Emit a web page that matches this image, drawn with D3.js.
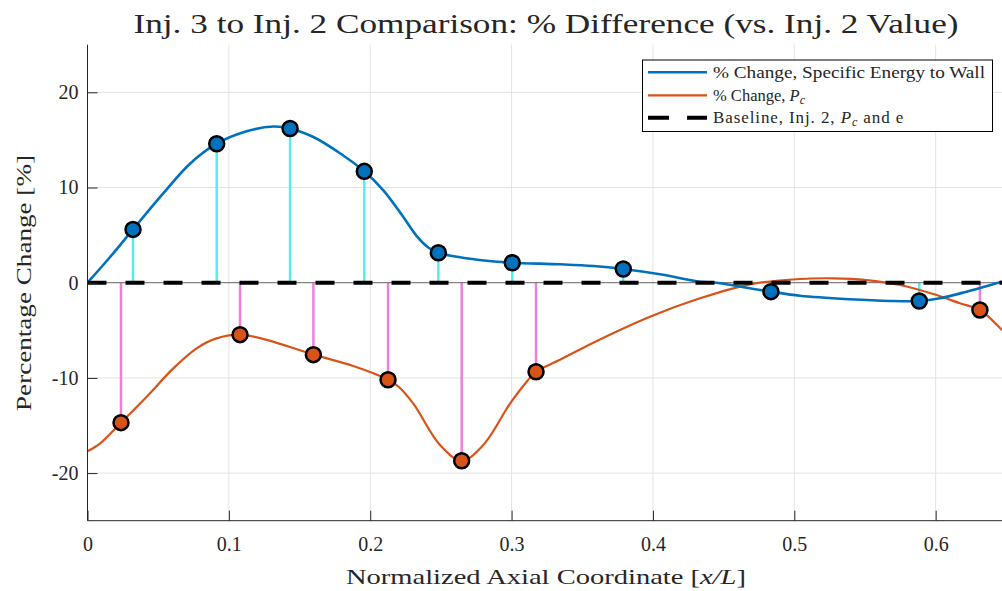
<!DOCTYPE html>
<html>
<head>
<meta charset="utf-8">
<script src="https://cdn.jsdelivr.net/npm/d3@7"></script>
<style>
  html, body { margin: 0; padding: 0; background: #fff; }
  svg { display: block; }
  text { font-family: "Liberation Serif", "DejaVu Serif", serif; fill: #262626; }
</style>
</head>
<body>
<svg id="chart" width="1002" height="591"></svg>
<script>
// Sampled positions where the two quantities are compared (stems + markers)
const energyX = [0.0322, 0.0914, 0.1433, 0.1958, 0.2482, 0.3005, 0.3790, 0.4835, 0.5884];
const energyY = [5.6, 14.6, 16.2, 11.7, 3.15, 2.1, 1.44, -0.94, -1.92];
const pcX = [0.0237, 0.1079, 0.1598, 0.2126, 0.2647, 0.3173, 0.6313];
const pcY = [-14.7, -5.46, -7.56, -10.19, -18.7, -9.35, -2.87];

// Continuous profiles along the axis
const energyLineX = [0, 0.016, 0.0322, 0.0537, 0.0725, 0.0914, 0.1126, 0.1315, 0.1433, 0.1598, 0.1786, 0.1958,
  0.2093, 0.2234, 0.2329, 0.2411, 0.2482, 0.2635, 0.2824, 0.3005, 0.3343, 0.3578, 0.3790, 0.4050, 0.4333,
  0.4450, 0.4687, 0.4835, 0.5040, 0.5394, 0.5677, 0.5884, 0.6030, 0.6220, 0.6455, 0.6500];
const energyLineY = [0, 2.7, 5.6, 9.4, 12.5, 14.6, 15.9, 16.4, 16.2, 15.3, 13.6, 11.7,
  9.7, 6.9, 4.9, 3.7, 3.15, 2.67, 2.3, 2.1, 1.93, 1.75, 1.44, 0.88, 0.1,
  0.0, -0.59, -0.94, -1.37, -1.74, -1.92, -1.92, -1.64, -0.94, 0.04, 0.22];
const pcLineX = [0, 0.0088, 0.0237, 0.0419, 0.0607, 0.0772, 0.0902, 0.1079, 0.1268, 0.1598, 0.1880, 0.2126,
  0.2199, 0.2305, 0.2494, 0.2647, 0.2800, 0.2989, 0.3107, 0.3173, 0.3343, 0.3578, 0.3979, 0.4333,
  0.4687, 0.5040, 0.5276, 0.5512, 0.5748, 0.5983, 0.6172, 0.6313, 0.6470, 0.6500];
const pcLineY = [-17.7, -16.9, -14.7, -11.97, -9.0, -6.9, -5.9, -5.46, -6.0, -7.56, -8.75, -10.19,
  -10.9, -12.7, -17.05, -18.7, -17.05, -12.7, -10.4, -9.35, -8.1, -6.3, -3.57, -1.64,
  -0.17, 0.39, 0.46, 0.28, -0.24, -1.19, -2.16, -2.87, -4.97, -5.4];

const xTicks = [0, 0.1, 0.2, 0.3, 0.4, 0.5, 0.6];
const yTicks = [-20, -10, 0, 10, 20];

const svg = d3.select("#chart");
const plotLeft = 87.5, plotTop = 44.7, plotBottom = 520.7;
const pxPerUnit = 1413.6;
const xMax = 0.65;

const x = d3.scaleLinear().domain([0, xMax]).range([plotLeft, plotLeft + xMax * pxPerUnit]);
const y = d3.scaleLinear().domain([-25, 25]).range([plotBottom, plotTop]);

svg.append("defs").append("clipPath").attr("id", "plot-clip")
  .append("rect").attr("x", plotLeft).attr("y", plotTop)
  .attr("width", xMax * pxPerUnit).attr("height", plotBottom - plotTop);

// grid
const grid = svg.append("g");
grid.selectAll(".gx").data(xTicks.filter(d => d > 0)).join("line")
  .attr("x1", d => x(d)).attr("x2", d => x(d)).attr("y1", plotTop).attr("y2", plotBottom)
  .attr("stroke", "#e3e3e3").attr("stroke-width", 1);
grid.selectAll(".gy").data(yTicks).join("line")
  .attr("x1", plotLeft).attr("x2", x(xMax)).attr("y1", d => y(d)).attr("y2", d => y(d))
  .attr("stroke", "#e3e3e3").attr("stroke-width", 1);

const plot = svg.append("g").attr("clip-path", "url(#plot-clip)");

// stems from zero to each sampled value
plot.selectAll(".stemE").data(energyX.map((d, i) => [d, energyY[i]])).join("line")
  .attr("x1", d => x(d[0])).attr("x2", d => x(d[0]))
  .attr("y1", y(0)).attr("y2", d => y(d[1]))
  .attr("stroke", "#55eef0").attr("stroke-width", 2.5);
plot.selectAll(".stemP").data(pcX.map((d, i) => [d, pcY[i]])).join("line")
  .attr("x1", d => x(d[0])).attr("x2", d => x(d[0]))
  .attr("y1", y(0)).attr("y2", d => y(d[1]))
  .attr("stroke", "#f07edc").attr("stroke-width", 2.5);

// thin stem base line
plot.append("line").attr("x1", plotLeft).attr("x2", x(xMax)).attr("y1", y(0)).attr("y2", y(0))
  .attr("stroke", "#6b6b6b").attr("stroke-width", 1);

const line = d3.line().x(d => x(d[0])).y(d => y(d[1])).curve(d3.curveCatmullRom.alpha(0.5));

plot.append("path").datum(pcLineX.map((d, i) => [d, pcLineY[i]]))
  .attr("d", line).attr("fill", "none").attr("stroke", "#d95319").attr("stroke-width", 2.2);
plot.append("path").datum(energyLineX.map((d, i) => [d, energyLineY[i]]))
  .attr("d", line).attr("fill", "none").attr("stroke", "#0072bd").attr("stroke-width", 2.6);

// baseline
plot.append("line").attr("x1", plotLeft).attr("x2", x(xMax)).attr("y1", y(0)).attr("y2", y(0))
  .attr("stroke", "#000").attr("stroke-width", 4).attr("stroke-dasharray", "19 19");

// markers
plot.selectAll(".mE").data(energyX.map((d, i) => [d, energyY[i]])).join("circle")
  .attr("cx", d => x(d[0])).attr("cy", d => y(d[1])).attr("r", 7.5)
  .attr("fill", "#0072bd").attr("stroke", "#000").attr("stroke-width", 2.5);
plot.selectAll(".mP").data(pcX.map((d, i) => [d, pcY[i]])).join("circle")
  .attr("cx", d => x(d[0])).attr("cy", d => y(d[1])).attr("r", 7.5)
  .attr("fill", "#d95319").attr("stroke", "#000").attr("stroke-width", 2.5);

// axes
const axisColor = "#262626";
svg.append("line").attr("x1", plotLeft).attr("x2", x(xMax)).attr("y1", plotBottom).attr("y2", plotBottom)
  .attr("stroke", axisColor).attr("stroke-width", 1);
svg.append("line").attr("x1", plotLeft).attr("x2", plotLeft).attr("y1", plotTop).attr("y2", plotBottom)
  .attr("stroke", axisColor).attr("stroke-width", 1);

const xAxis = d3.axisBottom(x).tickValues(xTicks).tickSize(-10).tickPadding(24)
  .tickFormat(d => d === 0 ? "0" : d3.format(".1f")(d));
const gx = svg.append("g").attr("transform", `translate(0,${plotBottom})`).call(xAxis);
gx.select(".domain").remove();
gx.selectAll(".tick line").attr("stroke", axisColor);
gx.selectAll(".tick text").attr("font-size", 20).attr("fill", axisColor)
  .attr("font-family", "Liberation Serif").attr("dy", "0.3em");

const yAxis = d3.axisLeft(y).tickValues(yTicks).tickSize(-10).tickPadding(9)
  .tickFormat(d => String(d));
const gy = svg.append("g").attr("transform", `translate(${plotLeft},0)`).call(yAxis);
gy.select(".domain").remove();
gy.selectAll(".tick line").attr("stroke", axisColor);
gy.selectAll(".tick text").attr("font-size", 20).attr("fill", axisColor)
  .attr("font-family", "Liberation Serif");

// titles
svg.append("text").attr("x", 546).attr("y", 33).attr("text-anchor", "middle")
  .attr("font-size", 28).attr("fill", "#000")
  .attr("textLength", 825).attr("lengthAdjust", "spacingAndGlyphs")
  .text("Inj. 3 to Inj. 2 Comparison: % Difference (vs. Inj. 2 Value)");

const xl = svg.append("text").attr("x", 546).attr("y", 584).attr("text-anchor", "middle")
  .attr("font-size", 22).attr("textLength", 400).attr("lengthAdjust", "spacingAndGlyphs");
xl.append("tspan").text("Normalized Axial Coordinate [");
xl.append("tspan").attr("font-style", "italic").text("x/L");
xl.append("tspan").text("]");

svg.append("text").attr("transform", "translate(31,283) rotate(-90)").attr("text-anchor", "middle")
  .attr("font-size", 22).attr("textLength", 256).attr("lengthAdjust", "spacingAndGlyphs")
  .text("Percentage Change [%]");

// legend
const lg = svg.append("g");
lg.append("rect").attr("x", 642.5).attr("y", 60).attr("width", 350).attr("height", 71.5)
  .attr("fill", "#fff").attr("stroke", "#000").attr("stroke-width", 1);
const rows = [72.3, 95.3, 117.7];
lg.append("line").attr("x1", 648).attr("x2", 707).attr("y1", rows[0]).attr("y2", rows[0])
  .attr("stroke", "#0072bd").attr("stroke-width", 2.6);
lg.append("line").attr("x1", 648).attr("x2", 707).attr("y1", rows[1]).attr("y2", rows[1])
  .attr("stroke", "#d95319").attr("stroke-width", 2.2);
lg.append("line").attr("x1", 648).attr("x2", 707).attr("y1", rows[2]).attr("y2", rows[2])
  .attr("stroke", "#000").attr("stroke-width", 4).attr("stroke-dasharray", "21 18");

lg.append("text").attr("x", 713).attr("y", rows[0] + 5.5).attr("font-size", 17).attr("fill", "#000")
  .attr("textLength", 272).attr("lengthAdjust", "spacingAndGlyphs")
  .text("% Change, Specific Energy to Wall");
const t2 = lg.append("text").attr("x", 713).attr("y", rows[1] + 5.5).attr("font-size", 16.5).attr("fill", "#000");
t2.append("tspan").text("% Change, ");
t2.append("tspan").attr("font-style", "italic").text("P");
t2.append("tspan").attr("font-style", "italic").attr("font-size", 12).attr("dy", 3).text("c");
const t3 = lg.append("text").attr("x", 713).attr("y", rows[2] + 5.5).attr("font-size", 17).attr("fill", "#000")
  .attr("letter-spacing", 0.9);
t3.append("tspan").text("Baseline, Inj. 2, ");
t3.append("tspan").attr("font-style", "italic").text("P");
t3.append("tspan").attr("font-style", "italic").attr("font-size", 12).attr("dy", 3).text("c");
t3.append("tspan").attr("dy", -3).text(" and e");
</script>
</body>
</html>
